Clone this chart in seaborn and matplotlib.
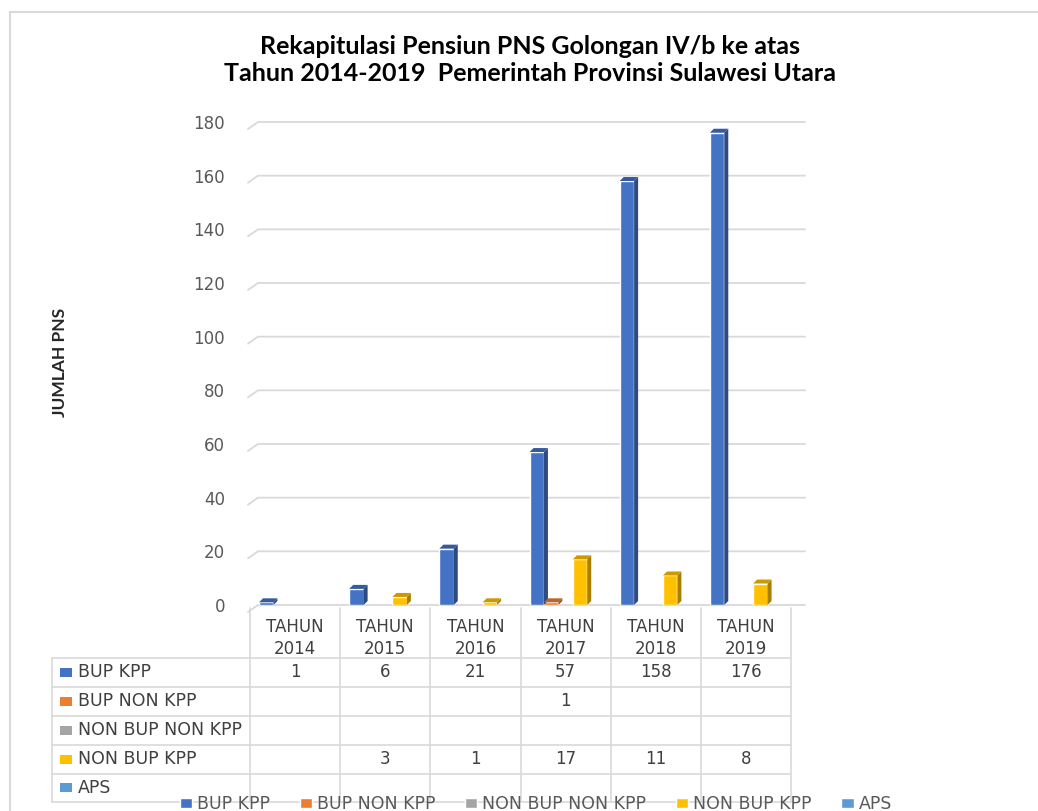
import numpy as np
import pandas as pd
import matplotlib.pyplot as plt
import seaborn as sns
from matplotlib.patches import Polygon, Rectangle, Patch
from matplotlib.colors import to_rgb

years = ['TAHUN\n2014', 'TAHUN\n2015', 'TAHUN\n2016', 'TAHUN\n2017', 'TAHUN\n2018', 'TAHUN\n2019']
series = ['BUP KPP', 'BUP NON KPP', 'NON BUP NON KPP', 'NON BUP KPP', 'APS']
bup_kpp = [1, 6, 21, 57, 158, 176]
bup_non_kpp = [None, None, None, 1, None, None]
non_bup_non_kpp = [None, None, None, None, None, None]
non_bup_kpp = [None, 3, 1, 17, 11, 8]
aps = [None, None, None, None, None, None]
colors = ['#4472C4', '#ED7D31', '#A5A5A5', '#FFC000', '#5B9BD5']

values = [bup_kpp, bup_non_kpp, non_bup_non_kpp, non_bup_kpp, aps]
rows = []
for name, vals in zip(series, values):
    for yr, v in zip(years, vals):
        rows.append({'tahun': yr, 'seri': name, 'jumlah': v})
data = pd.DataFrame(rows).dropna()

sns.set_style('white')
plt.rcParams['font.family'] = ['DejaVu Sans']

W, H = 1038, 811
fig = plt.figure(figsize=(W / 100, H / 100), dpi=100)

col_w = (791 - 250) / 6
def px2x(px):
    return (px - 250) / col_w - 0.5

# main bar area
ax = fig.add_axes([250 / W, 1 - 605 / H, (791 - 250) / W, (605 - 122) / H])
sns.barplot(data=data, x='tahun', y='jumlah', hue='seri', order=years,
            hue_order=series, palette=colors, saturation=1, width=0.8,
            ax=ax, legend=False)
ax.set_ylim(0, 180)
ax.set_xlim(-0.5, 5.5)
ax.set_yticks(range(0, 181, 20))
ax.tick_params(axis='y', length=0, labelsize=12, labelcolor='#595959', pad=18)
ax.tick_params(axis='x', length=0, labelbottom=False)
ax.set_xlabel('')
ax.set_ylabel('')
sns.despine(ax=ax, left=True, bottom=True)

# gridlines on the back wall, with the little slant of the side wall
unit = 180 / (605 - 122)
for v in range(0, 181, 20):
    ax.plot([px2x(248), px2x(258), px2x(805)], [v - 7 * unit, v, v],
            color='#D9D9D9', lw=1.3, clip_on=False, zorder=0)

# fake 3d look: darker side and top on every bar
dx, dy = 4 / col_w, 4 * unit
for bar in list(ax.patches):
    h = bar.get_height()
    if not np.isfinite(h):
        continue
    x0 = bar.get_x()
    x1 = x0 + bar.get_width()
    c = np.array(to_rgb(bar.get_facecolor()))
    side = c * 0.66
    top = c * 0.8
    ax.add_patch(Polygon([(x1, 0), (x1 + dx, dy), (x1 + dx, h + dy), (x1, h)],
                         closed=True, facecolor=side, edgecolor='none'))
    ax.add_patch(Polygon([(x0, h), (x0 + dx, h + dy), (x1 + dx, h + dy), (x1, h)],
                         closed=True, facecolor=top, edgecolor='none'))

# data table under the chart
left = 52
ax_t = fig.add_axes([left / W, 1 - 802 / H, (791 - left) / W, (802 - 605) / H])
ax_t.set_xlim(px2x(left), 5.5)
ax_t.set_ylim(802, 605)
ax_t.axis('off')

line_kw = dict(color='#D9D9D9', lw=1.2, clip_on=False)
for y in [658, 687, 716, 745, 774, 802]:
    ax_t.plot([px2x(left), 5.5], [y, y], **line_kw)
for k in range(7):
    ax_t.plot([k - 0.5, k - 0.5], [608, 802], **line_kw)
ax_t.plot([px2x(left), px2x(left)], [658, 802], **line_kw)

for i, yr in enumerate(years):
    ax_t.text(i, 638, yr, ha='center', va='center', fontsize=12,
              linespacing=1.3, color='#404040')

row_y = [672.5, 701.5, 730.5, 759.5, 788]
for name, vals, col, y in zip(series, values, colors, row_y):
    ax_t.add_patch(Rectangle((px2x(60), y - 4.5), px2x(72) - px2x(60), 9,
                             facecolor=col, edgecolor='none', clip_on=False))
    ax_t.text(px2x(78), y, name, ha='left', va='center', fontsize=12.5, color='#404040')
    for i, v in enumerate(vals):
        if v is not None:
            ax_t.text(i, y, str(v), ha='center', va='center', fontsize=12, color='#404040')

fig.text(530 / W, 1 - 60 / H,
         'Rekapitulasi Pensiun PNS Golongan IV/b ke atas\nTahun 2014-2019  Pemerintah Provinsi Sulawesi Utara',
         ha='center', va='center', fontsize=18, fontweight='bold', color='#000000',
         family=['Lato', 'DejaVu Sans'], linespacing=1.25)
fig.text(60 / W, 1 - 362 / H, 'JUMLAH PNS', rotation=90, ha='center', va='center',
         fontsize=12.5, fontweight='bold', color='#262626', family=['Lato', 'DejaVu Sans'])

handles = [Patch(facecolor=c) for c in colors]
fig.legend(handles, series, loc='center', bbox_to_anchor=(536 / W, 1 - 804 / H), ncol=5,
           frameon=False, fontsize=12.5, handlelength=0.7, handleheight=0.55,
           handletextpad=0.3, columnspacing=1.7, labelcolor='#595959')

fig.add_artist(Rectangle((10 / W, -0.1), 1.2, 1 - 12 / H + 0.1, transform=fig.transFigure,
                         fill=False, edgecolor='#D9D9D9', lw=1.5))

fig.savefig('out.png', dpi=100)
plt.close(fig)
